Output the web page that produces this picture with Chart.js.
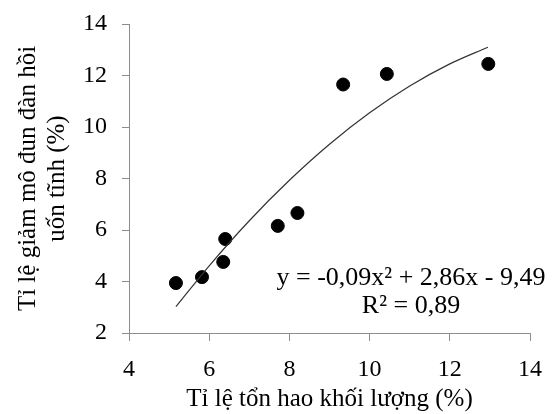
<!DOCTYPE html>
<html>
<head>
<meta charset="utf-8">
<script src="https://cdn.jsdelivr.net/npm/chart.js@4"></script>
<style>
    html, body { margin: 0; padding: 0; background: #fff; }
    #wrap { width: 556px; height: 414px; }
</style>
</head>
<body>
<div id="wrap"><canvas id="chart" width="556" height="414"></canvas></div>
<script>
// Điểm đo (x: tỉ lệ tổn hao khối lượng, y: tỉ lệ giảm mô đun)
const pointX = [5.17, 5.82, 6.35, 6.40, 7.71, 8.20, 9.34, 10.43, 12.96];
const pointY = [3.94, 4.17, 4.76, 5.65, 6.16, 6.66, 11.65, 12.06, 12.45];

// Đường xu hướng
const trendX = [5.17, 6, 7, 8, 9, 10, 11, 12, 12.95];
const trendY = [3.02, 4.61, 6.36, 7.93, 9.33, 10.55, 11.59, 12.45, 13.10];

const xTicks = [4, 6, 8, 10, 12, 14];
const yTicks = [2, 4, 6, 8, 10, 12, 14];

const equationLines = ['y = -0,09x² + 2,86x - 9,49', 'R² = 0,89'];

const FONT = 'Liberation Serif, Times New Roman, serif';
const AXIS = '#8c8c8c';

// Vẽ phương trình hồi quy
const equationPlugin = {
    id: 'equation',
    afterDraw(chart) {
        const ctx = chart.ctx;
        ctx.save();
        ctx.font = '26px ' + FONT;
        ctx.fillStyle = '#000';
        ctx.textAlign = 'center';
        ctx.textBaseline = 'alphabetic';
        ctx.fillText(equationLines[0], 411, 285);
        ctx.fillText(equationLines[1], 411, 313);
        ctx.restore();
    }
};

const ctx = document.getElementById('chart');
new Chart(ctx, {
    data: {
        datasets: [{
            type: 'line',
            data: trendX.map((x, i) => ({ x: x, y: trendY[i] })),
            borderColor: '#333',
            borderWidth: 1.2,
            pointRadius: 0,
            cubicInterpolationMode: 'monotone',
            fill: false
        }, {
            type: 'scatter',
            data: pointX.map((x, i) => ({ x: x, y: pointY[i] })),
            backgroundColor: '#000',
            borderColor: '#000',
            pointRadius: 6.5,
            pointHoverRadius: 6.5
        }]
    },
    options: {
        responsive: false,
        animation: false,
        layout: { padding: { left: 0, top: 24, right: 14, bottom: 0 } },
        plugins: {
            legend: { display: false },
            tooltip: { enabled: false }
        },
        scales: {
            x: {
                type: 'linear',
                min: 4,
                max: 14,
                afterBuildTicks: scale => { scale.ticks = xTicks.map(v => ({ value: v })); },
                afterFit: scale => { scale.height = 81; },
                grid: { drawOnChartArea: false, drawTicks: true, tickLength: 8, color: AXIS },
                border: { display: true, color: AXIS, width: 1 },
                ticks: { color: '#000', font: { family: FONT, size: 24 }, padding: 14, maxRotation: 0 },
                title: {
                    display: true,
                    text: 'Tỉ lệ tổn hao khối lượng (%)',
                    color: '#000',
                    font: { family: FONT, size: 25 },
                    padding: { top: 0, bottom: 0 }
                }
            },
            y: {
                type: 'linear',
                min: 2,
                max: 14,
                afterBuildTicks: scale => { scale.ticks = yTicks.map(v => ({ value: v })); },
                afterFit: scale => {
                    scale.width = 129;
                    scale.paddingTop = 0;
                    scale.paddingBottom = 0;
                },
                grid: { drawOnChartArea: false, drawTicks: true, tickLength: 7, color: AXIS },
                border: { display: true, color: AXIS, width: 1 },
                ticks: { color: '#000', font: { family: FONT, size: 24 }, padding: 15 },
                title: {
                    display: true,
                    text: ['Tỉ lệ giảm mô đun đàn hồi', 'uốn tĩnh (%)'],
                    color: '#000',
                    font: { family: FONT, size: 25, lineHeight: 1.15 },
                    padding: { top: 14, bottom: 0 }
                }
            }
        }
    },
    plugins: [equationPlugin]
});
</script>
</body>
</html>
